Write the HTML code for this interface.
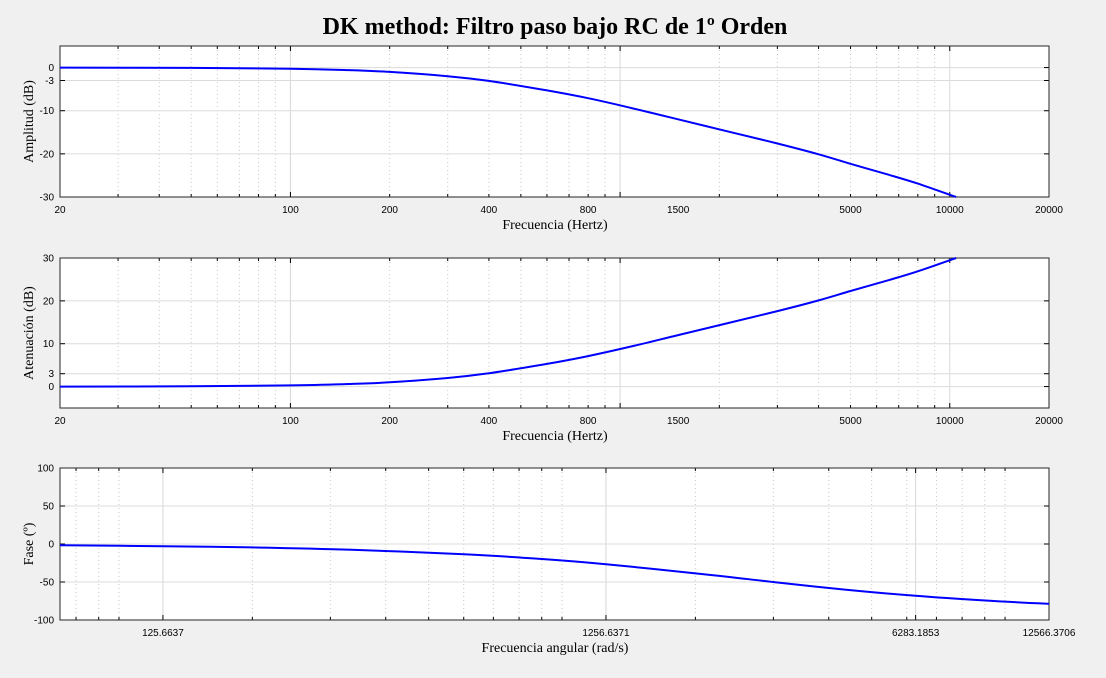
<!DOCTYPE html>
<html><head><meta charset="utf-8"><style>
body{margin:0;background:#f0f0f0;}
svg{display:block;font-family:"Liberation Sans",sans-serif;}
.ttl{font-family:"Liberation Serif",serif;font-weight:bold;font-size:24px;}
.lab{font-family:"Liberation Serif",serif;font-size:14px;}
.tk{font-size:10px;}
</style></head><body>
<svg id="c" width="1106" height="678">
<text class="ttl" x="555" y="34" text-anchor="middle">DK method: Filtro paso bajo RC de 1º Orden</text>
</svg>
<script>
const ampFreq=[20,50,100,150,200,300,400,600,800,1100,1500,2200,3000,4000,5000,6500,8000,10450];
const ampDb=[0,-0.07,-0.27,-0.59,-1.0,-2.0,-3.1,-5.3,-7.1,-9.5,-12.0,-15.1,-17.6,-20.1,-22.3,-24.8,-26.9,-30];
const attFreq=[20,50,100,150,200,300,400,600,800,1100,1500,2200,3000,4000,5000,6500,8000,10450];
const attDb=[0,0.07,0.27,0.59,1.0,2.0,3.1,5.3,7.1,9.5,12.0,15.1,17.6,20.1,22.3,24.8,26.9,30];
const phW=[73.6,125.66,200,335,601,900,1256.6,2090,3010,4350,6280,9030,12566];
const phDeg=[-1.7,-2.9,-4.5,-7.6,-13.4,-19.7,-26.6,-39.7,-50.1,-60,-68.2,-74.4,-78.7];
const hzTicks=[20,100,200,400,800,1500,5000,10000,20000];
const radTicks=[125.6637,1256.6371,6283.1853,12566.3706];
const ampYTicks=[0,-3,-10,-20,-30];
const attYTicks=[30,20,10,3,0];
const phYTicks=[100,50,0,-50,-100];

const NS='http://www.w3.org/2000/svg',svg=document.getElementById('c');
function el(t,a,p){const e=document.createElementNS(NS,t);for(const k in a)e.setAttribute(k,a[k]);(p||svg).appendChild(e);return e;}
function smooth(P){let d='M'+P[0][0].toFixed(1)+','+P[0][1].toFixed(1);
  for(let i=0;i<P.length-1;i++){const p0=P[i-1]||P[i],p1=P[i],p2=P[i+1],p3=P[i+2]||p2;
    const c1=[p1[0]+(p2[0]-p0[0])/6,p1[1]+(p2[1]-p0[1])/6],c2=[p2[0]-(p3[0]-p1[0])/6,p2[1]-(p3[1]-p1[1])/6];
    d+=`C${c1[0].toFixed(1)},${c1[1].toFixed(1)} ${c2[0].toFixed(1)},${c2[1].toFixed(1)} ${p2[0].toFixed(1)},${p2[1].toFixed(1)}`;}
  return d;}
function panel(o){
  const g=el('g',{});
  
  
  const L=60,R=1049,T=o.top,B=o.bot;
  const sx=v=>L+(Math.log10(v)-Math.log10(o.xmin))/(Math.log10(o.xmax)-Math.log10(o.xmin))*(R-L);
  const sy=v=>T+(o.ymax-v)/(o.ymax-o.ymin)*(B-T);
  el('rect',{x:L,y:T,width:R-L,height:B-T,fill:'#fff'},g);
  for(let d=Math.floor(Math.log10(o.xmin));d<=Math.ceil(Math.log10(o.xmax));d++){
    for(let m=1;m<10;m++){const v=m*Math.pow(10,d);if(v<=o.xmin||v>=o.xmax)continue;
      const x=sx(v);const major=(m===1&&!o.tickGrid);
      el('line',{x1:x,x2:x,y1:T,y2:B,stroke:major?'#d8d8d8':'#c8c8c8','stroke-width':1,'stroke-dasharray':major?'':'1,3'},g);
      el('line',{x1:x,x2:x,y1:B,y2:B-(major?5:3),stroke:'#000'},g);
      el('line',{x1:x,x2:x,y1:T,y2:T+(major?5:3),stroke:'#000'},g);}
  }
  if(o.tickGrid) o.xt.forEach(v=>{const x=sx(v);if(x>L+1&&x<R-1){
      el('line',{x1:x,x2:x,y1:T,y2:B,stroke:'#d8d8d8'},g);
      el('line',{x1:x,x2:x,y1:B,y2:B-5,stroke:'#000'},g);
      el('line',{x1:x,x2:x,y1:T,y2:T+5,stroke:'#000'},g);}});
  o.yt.forEach(v=>{const y=sy(v);
    el('line',{x1:L,x2:R,y1:y,y2:y,stroke:'#dcdcdc'},g);
    el('line',{x1:L,x2:L+5,y1:y,y2:y,stroke:'#000'},g);
    el('line',{x1:R,x2:R-5,y1:y,y2:y,stroke:'#000'},g);
    const t=el('text',{x:L-6,y:y+3.5,'text-anchor':'end',class:'tk'},g);t.textContent=v;
    
    });
  o.xt.forEach(v=>{const x=sx(v);
    const t=el('text',{x:x,y:B+16,'text-anchor':'middle',class:'tk'},g);t.textContent=v;
    
    });
  el('rect',{x:L,y:T,width:R-L,height:B-T,fill:'none',stroke:'#262626'},g);
  const P=o.xs.map((v,i)=>[sx(v),sy(o.ys[i])]);
  const pl=el('path',{d:smooth(P),fill:'none',stroke:'#0000ff','stroke-width':2,'stroke-linejoin':'round'},g);
  
  
  const xl=el('text',{x:555,y:B+32,'text-anchor':'middle',class:'lab'},g);xl.textContent=o.xl;
  
  
  const yc=(T+B)/2;
  const yl=el('text',{x:33,y:yc,'text-anchor':'middle',class:'lab',transform:`rotate(-90 33 ${yc})`},g);yl.textContent=o.yl;
  
  
}
panel({name:'amplitude-panel',top:46,bot:197,xmin:20,xmax:20000,ymin:-30,ymax:5,yt:ampYTicks,xt:hzTicks,xs:ampFreq,ys:ampDb,xl:'Frecuencia (Hertz)',yl:'Amplitud (dB)'});
panel({name:'attenuation-panel',top:258,bot:408,xmin:20,xmax:20000,ymin:-5,ymax:30,yt:attYTicks,xt:hzTicks,xs:attFreq,ys:attDb,xl:'Frecuencia (Hertz)',yl:'Atenuación (dB)'});
panel({name:'phase-panel',top:468,bot:620,xmin:73.6,xmax:12566.37,ymin:-100,ymax:100,yt:phYTicks,xt:radTicks,xs:phW,ys:phDeg,xl:'Frecuencia angular (rad/s)',yl:'Fase (º)',tickGrid:true});
</script>
</body></html>
